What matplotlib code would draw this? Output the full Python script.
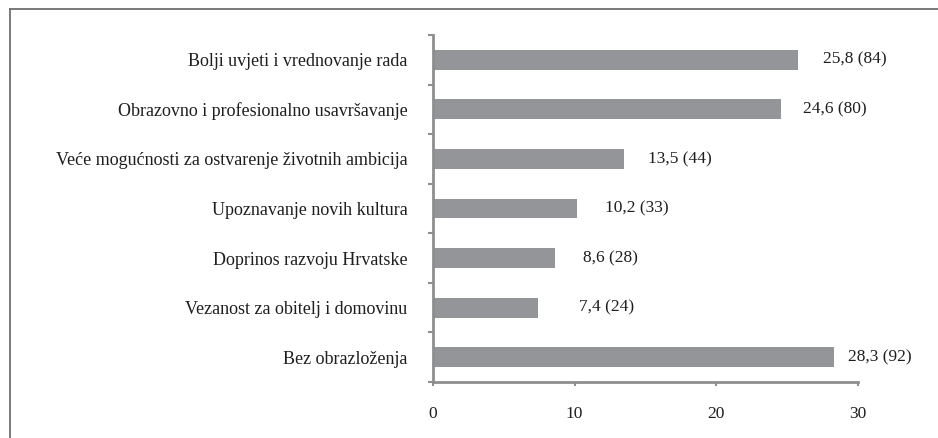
import matplotlib.pyplot as plt
from matplotlib.lines import Line2D
import numpy as np

plt.rcParams['font.family'] = ['Liberation Serif', 'DejaVu Serif']

categories = [
    "Bolji uvjeti i vrednovanje rada",
    "Obrazovno i profesionalno usavršavanje",
    "Veće mogućnosti za ostvarenje životnih ambicija",
    "Upoznavanje novih kultura",
    "Doprinos razvoju Hrvatske",
    "Vezanost za obitelj i domovinu",
    "Bez obrazloženja",
]
percent = [25.8, 24.6, 13.5, 10.2, 8.6, 7.4, 28.3]
counts = [84, 80, 44, 33, 28, 24, 92]
x_ticks = [0, 10, 20, 30]

# label gap after bar end, in points (as placed in the original)
label_pad = [18, 16, 17, 20, 20, 30, 10]

bar_color = "#939598"
spine_color = "#8e8e8e"
text_color = "#1e1e1e"

fig = plt.figure(figsize=(9.38, 4.38), dpi=100)
ax = fig.add_axes([0.4616, 0.1279, 0.9144 - 0.4616, 0.9201 - 0.1279])

y = np.arange(len(categories))
ax.barh(y, percent, height=0.4, color=bar_color)
ax.set_ylim(len(categories) - 0.5, -0.5)
ax.set_xlim(0, 30)

for i, (p, c) in enumerate(zip(percent, counts)):
    lbl = f"{p:.1f}".replace(".", ",") + f" ({c})"
    ax.annotate(lbl, (p, i), xytext=(label_pad[i], 0), textcoords="offset points",
                ha="left", va="center", fontsize=12.5, color=text_color)

# category labels on minor ticks, boundary ticks as major ticks
ax.set_yticks(np.arange(-0.5, len(categories)), labels=[])
ax.set_yticks(y, labels=categories, minor=True)
ax.tick_params(axis="y", which="major", direction="out", length=3.5, width=1.5, color=spine_color)
ax.tick_params(axis="y", which="minor", length=0, pad=18.5, labelsize=13, labelcolor=text_color)

ax.set_xticks(x_ticks)
ax.tick_params(axis="x", direction="out", length=3, width=1.5, color=spine_color, pad=14,
               labelsize=12.5, labelcolor=text_color)

for side in ["top", "right"]:
    ax.spines[side].set_visible(False)
for side in ["left", "bottom"]:
    ax.spines[side].set_color(spine_color)
    ax.spines[side].set_linewidth(2)

# outer frame (top and left edges only)
top = 1 - 8.5 / 438
left = 9.5 / 938
fig.add_artist(Line2D([left, 1], [top, top], color="#707070", lw=1.3, transform=fig.transFigure))
fig.add_artist(Line2D([left, left], [0, top], color="#707070", lw=1.3, transform=fig.transFigure))

fig.savefig("out.png", dpi=100)
